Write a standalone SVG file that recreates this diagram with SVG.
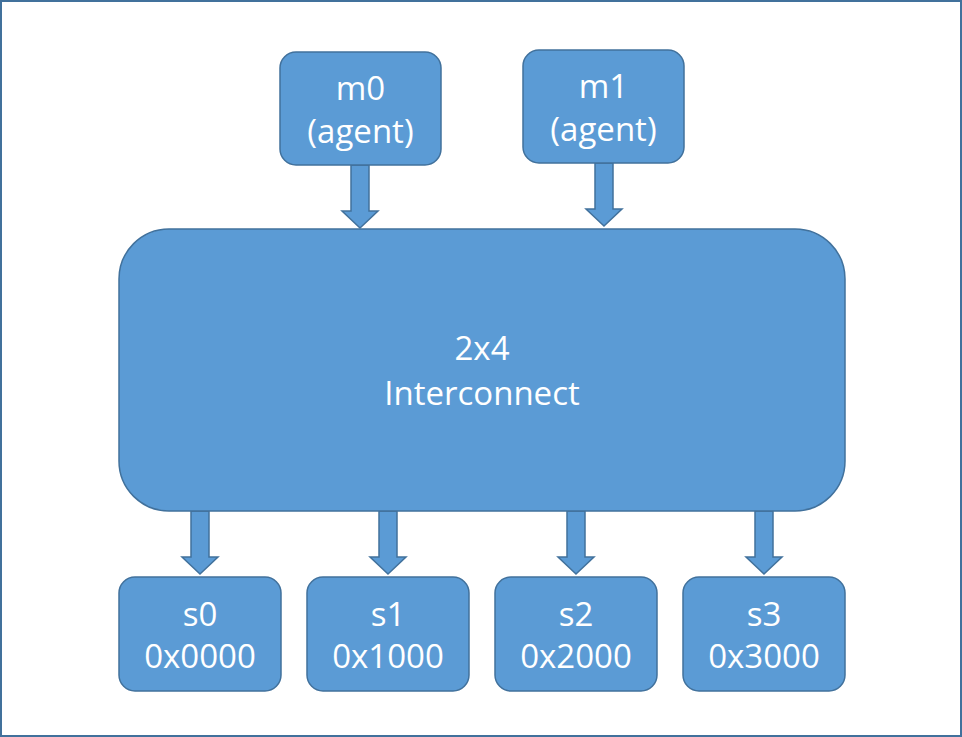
<svg xmlns="http://www.w3.org/2000/svg" width="962" height="737" viewBox="0 0 962 737">
<style>
.box{fill:#5B9BD5;stroke:#41719C;stroke-width:1.5}
.arr{fill:#5B9BD5;stroke:#41719C;stroke-width:1.5;stroke-linejoin:miter}
.t{font-family:"Open Sans","Liberation Sans",sans-serif;font-size:33px;fill:#FFFFFF;text-anchor:middle}
</style>
<defs>
<path id="down" d="M-9,0 H9 V46 H18 L0,63 L-18,46 H-9 Z"/>
</defs>
<rect x="1" y="1" width="960" height="735" fill="#FFFFFF" stroke="#41719C" stroke-width="2"/>
<g id="connectors">
<use href="#down" class="arr" transform="translate(360,165)"/>
<use href="#down" class="arr" transform="translate(604,163)"/>
<use href="#down" class="arr" transform="translate(200,511)"/>
<use href="#down" class="arr" transform="translate(388,511)"/>
<use href="#down" class="arr" transform="translate(576,511)"/>
<use href="#down" class="arr" transform="translate(764,511)"/>
</g>
<g id="m0">
<rect class="box" x="280" y="52" width="161" height="113" rx="16"/>
<text class="t" x="360.5" y="100">m0</text>
<text class="t" x="360.5" y="143">(agent)</text>
</g>
<g id="m1">
<rect class="box" x="523" y="50" width="161" height="113" rx="16"/>
<text class="t" x="603.5" y="98">m1</text>
<text class="t" x="603.5" y="141">(agent)</text>
</g>
<g id="interconnect">
<rect class="box" x="119" y="229" width="726" height="282" rx="50"/>
<text class="t" x="482" y="360">2x4</text>
<text class="t" x="482" y="405">Interconnect</text>
</g>
<g id="s0">
<rect class="box" x="119" y="577" width="162" height="114" rx="16"/>
<text class="t" x="200" y="626">s0</text>
<text class="t" x="200" y="668">0x0000</text>
</g>
<g id="s1">
<rect class="box" x="307" y="577" width="162" height="114" rx="16"/>
<text class="t" x="388" y="626">s1</text>
<text class="t" x="388" y="668">0x1000</text>
</g>
<g id="s2">
<rect class="box" x="495" y="577" width="162" height="114" rx="16"/>
<text class="t" x="576" y="626">s2</text>
<text class="t" x="576" y="668">0x2000</text>
</g>
<g id="s3">
<rect class="box" x="683" y="577" width="162" height="114" rx="16"/>
<text class="t" x="764" y="626">s3</text>
<text class="t" x="764" y="668">0x3000</text>
</g>
</svg>
